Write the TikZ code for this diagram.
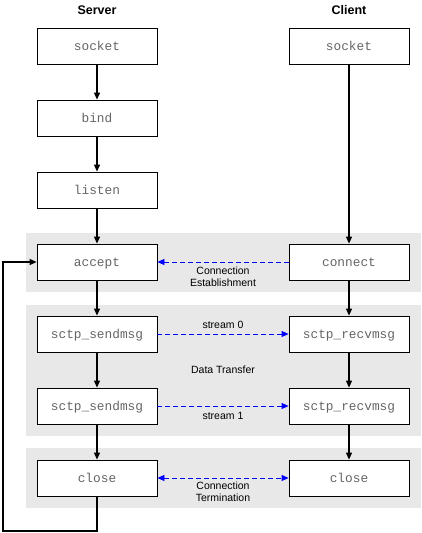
\documentclass[tikz,border=0pt]{standalone}
\usepackage{fontspec}
\setmainfont{Liberation Sans}
\setmonofont{Liberation Mono}
\usetikzlibrary{arrows.meta}
\definecolor{regiongray}{HTML}{E8E8E8}
\definecolor{codegray}{HTML}{656565}
\begin{document}
\begin{tikzpicture}[x=1pt,y=-1pt,
  fnbox/.style={draw=black, line width=0.8pt, fill=white, minimum width=120pt, minimum height=36pt, inner sep=0pt, text height=9.5pt, text depth=0pt, font=\ttfamily\fontsize{12.8}{14}\selectfont, text=codegray},
  title/.style={font=\bfseries\fontsize{12.5}{14}\selectfont},
  lbl/.style={font=\fontsize{10.5}{12}\selectfont, align=center, inner sep=0pt},
  flow/.style={line width=1.1pt, -{Triangle[length=7pt,width=6pt]}},
  msg/.style={blue, dashed, dash pattern=on 5pt off 3pt, line width=0.8pt, -{Triangle[length=7pt,width=6pt]}},
  msgboth/.style={blue, dashed, dash pattern=on 5pt off 3pt, line width=0.8pt, {Triangle[length=7pt,width=6pt]}-{Triangle[length=7pt,width=6pt]}}
]
\useasboundingbox (0,0) rectangle (422,533);
% regions
\fill[regiongray] (26,233) rectangle (421,292);
\fill[regiongray] (26,305) rectangle (421,436);
\fill[regiongray] (26,448) rectangle (421,508);
% titles
\node[title] (tserver) at (97,10) {Server};
\node[title] (tclient) at (349,10) {Client};
% server boxes
\node[fnbox] (ssocket) at (97,46) {socket};
\node[fnbox] (sbind) at (97,118) {bind};
\node[fnbox] (slisten) at (97,190) {listen};
\node[fnbox] (saccept) at (97,262) {accept};
\node[fnbox] (ssend1) at (97,334) {sctp\_sendmsg};
\node[fnbox] (ssend2) at (97,406) {sctp\_sendmsg};
\node[fnbox] (sclose) at (97,478) {close};
% client boxes
\node[fnbox] (csocket) at (349,46) {socket};
\node[fnbox] (cconnect) at (349,262) {connect};
\node[fnbox] (crecv1) at (349,334) {sctp\_recvmsg};
\node[fnbox] (crecv2) at (349,406) {sctp\_recvmsg};
\node[fnbox] (cclose) at (349,478) {close};
% server flow
\draw[flow] (ssocket) -- (sbind);
\draw[flow] (sbind) -- (slisten);
\draw[flow] (slisten) -- (saccept);
\draw[flow] (saccept) -- (ssend1);
\draw[flow] (ssend1) -- (ssend2);
\draw[flow] (ssend2) -- (sclose);
% client flow
\draw[flow] (csocket) -- (cconnect);
\draw[flow] (cconnect) -- (crecv1);
\draw[flow] (crecv1) -- (crecv2);
\draw[flow] (crecv2) -- (cclose);
% loop back
\coordinate (lb) at (97,531);
\coordinate (ll) at (3,531);
\draw[flow] (sclose.south) -- (lb) -- (ll) |- (saccept.west);
% messages
\draw[msg] (cconnect.west) -- (saccept.east);
\draw[msg] (ssend1.east) -- (crecv1.west);
\draw[msg] (ssend2.east) -- (crecv2.west);
\draw[msgboth] (sclose.east) -- (cclose.west);
% labels
\node[lbl] (lconn) at (223,277) {Connection\\Establishment};
\node[lbl] (ls0) at (223,325) {stream 0};
\node[lbl] (ldt) at (223,370) {Data Transfer};
\node[lbl] (ls1) at (223,416) {stream 1};
\node[lbl] (lterm) at (223,492) {Connection\\Termination};
\end{tikzpicture}
\end{document}
